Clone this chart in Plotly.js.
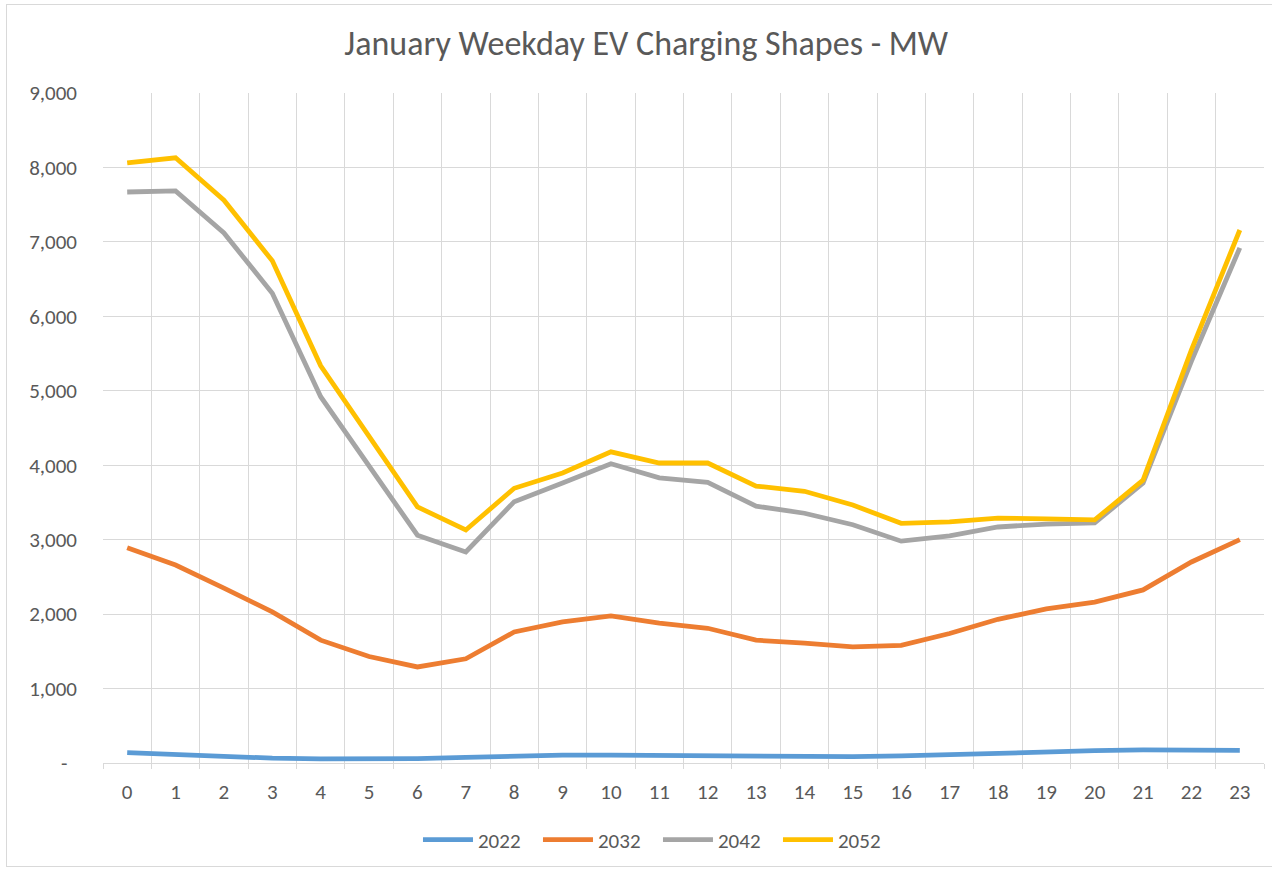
<!DOCTYPE html>
<html>
<head>
<meta charset="utf-8">
<script src="https://cdn.plot.ly/plotly-3.0.1.min.js"></script>
<style>
  html, body { margin: 0; padding: 0; background: #ffffff; }
  #frame { position: absolute; left: 6px; top: 4px; width: 1290px; height: 863px; border: 1px solid #d9d9d9; box-sizing: border-box; }
  #chart { position: absolute; left: 0; top: 0; width: 1272px; height: 871px; }
</style>
</head>
<body>
<div id="frame"></div>
<div id="chart"></div>
<script>
const hours = [0,1,2,3,4,5,6,7,8,9,10,11,12,13,14,15,16,17,18,19,20,21,22,23];
const hourLabels = hours.map(String);
const s2022 = [140,110,80,65,55,55,60,75,95,105,105,100,105,95,95,85,95,115,135,155,165,175,180,170];
const s2032 = [2890,2660,2350,2030,1650,1430,1290,1400,1760,1895,1975,1880,1810,1650,1610,1560,1580,1740,1930,2070,2160,2325,2700,3000];
const s2042 = [7670,7685,7120,6310,4920,3980,3060,2835,3510,3760,4020,3830,3770,3450,3355,3200,2980,3050,3170,3210,3225,3760,5400,6920];
const s2052 = [8060,8130,7560,6745,5335,4400,3440,3130,3690,3895,4180,4030,4030,3720,3650,3465,3220,3240,3290,3280,3265,3800,5550,7160];
const seriesNames = ["2022","2032","2042","2052"];
const seriesColors = ["#5B9BD5","#ED7D31","#A5A5A5","#FFC000"];
const yTickVals = [0,1000,2000,3000,4000,5000,6000,7000,8000,9000];
const yTickText = ["-\u00A0\u00A0","1,000","2,000","3,000","4,000","5,000","6,000","7,000","8,000","9,000"];

const allSeries = [s2022, s2032, s2042, s2052];
const traces = allSeries.map((s, i) => ({
  x: hours, y: s, type: 'scatter', mode: 'lines', name: seriesNames[i],
  line: { color: seriesColors[i], width: 4.8 }
}));

const font = "Calibri, Carlito, 'Liberation Sans', Arial, sans-serif";
const layout = {
  width: 1272, height: 871,
  margin: { l: 103, r: 8, t: 93, b: 108 },
  paper_bgcolor: 'rgba(0,0,0,0)', plot_bgcolor: '#ffffff',
  font: { family: font, color: '#595959', size: 21 },
  title: { text: 'January Weekday EV Charging Shapes - MW', font: { size: 34, color: '#595959', family: font },
           x: 0.508, xanchor: 'center', y: 0.951, yanchor: 'middle' },
  showlegend: true,
  legend: { orientation: 'h', xref: 'container', yref: 'container', x: 0.3286, xanchor: 'left',
            y: 1 - 840/871, yanchor: 'middle', itemwidth: 50,
            font: { size: 21, color: '#595959' }, entrywidth: 55, entrywidthmode: 'pixels' },
  xaxis: {
    range: [-0.5, 23.5], tickvals: hours, ticktext: hourLabels, showgrid: false,
    zeroline: false, showline: true, linecolor: '#d9d9d9', linewidth: 1,
    ticks: '', ticklabelstandoff: 10, tickfont: { size: 21, color: '#595959' },
    minor: { tick0: -0.5, dtick: 1, showgrid: true, gridcolor: '#d9d9d9', gridwidth: 1,
             ticks: 'outside', ticklen: 5, tickcolor: '#d9d9d9' },
    fixedrange: true
  },
  yaxis: {
    range: [0, 9000], tickvals: yTickVals, ticktext: yTickText, showgrid: true,
    gridcolor: '#d9d9d9', gridwidth: 1, zeroline: false, showline: false,
    ticks: '', ticklabelstandoff: 25, tickfont: { size: 21, color: '#595959' }, fixedrange: true
  }
};
Plotly.newPlot('chart', traces, layout, { displayModeBar: false, staticPlot: true });
</script>
</body>
</html>
